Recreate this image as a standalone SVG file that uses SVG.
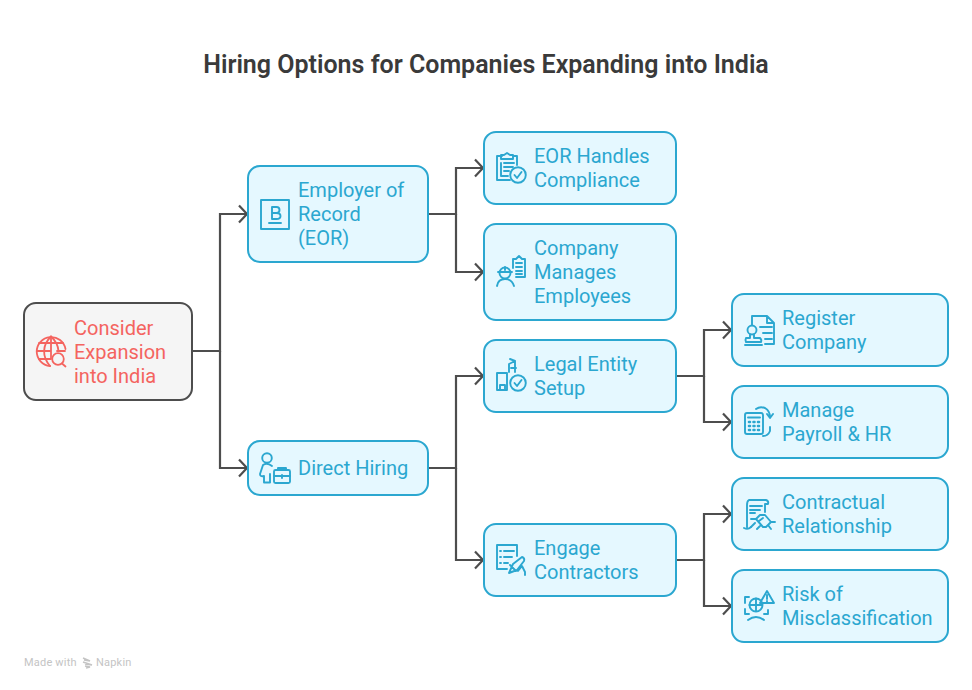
<svg xmlns="http://www.w3.org/2000/svg" width="972" height="690" viewBox="0 0 972 690">
<defs>
<marker id="arr" markerUnits="userSpaceOnUse" markerWidth="14" markerHeight="20" refX="10" refY="10" orient="auto"><path d="M2 1.500 L10 10 L2 18.500" fill="none" stroke="#4d4d4d" stroke-width="2.200"/></marker>
</defs>
<style>
text{font-family:Roboto,"Liberation Sans",sans-serif;font-size:20px;fill:#2ba7d0}
.title{font-size:25px;font-weight:600;fill:#3a3a3a;text-anchor:middle}
.b{fill:#e5f8ff;stroke:#2ba7d0;stroke-width:2}
.r{fill:#f5f5f5;stroke:#4d4d4d;stroke-width:2}
.rt{fill:#f4645f}
.c{fill:none;stroke:#4d4d4d;stroke-width:2.200}
.i{fill:none;stroke:#2ba7d0;stroke-width:1.900;stroke-linecap:round;stroke-linejoin:round}
.ir{fill:none;stroke:#f4645f;stroke-width:1.800;stroke-linecap:round;stroke-linejoin:round}
.d{stroke-width:2.600}
.m{font-size:11px;fill:#c4c4c4;letter-spacing:.2px}
</style>
<rect width="972" height="690" fill="#fff"/>
<text class="title" x="486" y="73">Hiring Options for Companies Expanding into India</text>
<g id="connectors">
<path class="c" d="M192 351H220V214H247" marker-end="url(#arr)"/>
<path class="c" d="M220 351V468H247" marker-end="url(#arr)"/>
<path class="c" d="M428 214H456V168H483" marker-end="url(#arr)"/>
<path class="c" d="M456 214V272H483" marker-end="url(#arr)"/>
<path class="c" d="M428 468H456V376H483" marker-end="url(#arr)"/>
<path class="c" d="M456 468V560H483" marker-end="url(#arr)"/>
<path class="c" d="M676 376H704V330H731" marker-end="url(#arr)"/>
<path class="c" d="M704 376V422H731" marker-end="url(#arr)"/>
<path class="c" d="M676 560H704V514H731" marker-end="url(#arr)"/>
<path class="c" d="M704 560V606H731" marker-end="url(#arr)"/>
</g>
<g id="n-root">
<rect class="r" x="24" y="303" width="168" height="97" rx="12"/>
<g class="ir"><path d="M50 366A14.500 14.500 0 1 1 65.500 349"/><path d="M51 336.500C42 345 42 357 50 366M51 336.500C56 341 58 345 58.500 351"/><path d="M51 336.500V359M37 351H51M57 351H65M39 343H63M39 359H50"/><circle cx="58" cy="359" r="5.800"/><path d="M62 363.500L65.500 366.500"/></g>
<text class="rt" x="74" y="335">Consider</text><text class="rt" x="74" y="359">Expansion</text><text class="rt" x="74" y="383">into India</text>
</g>
<g id="n-eor">
<rect class="b" x="248" y="166" width="180" height="96" rx="12"/>
<g class="i"><rect x="261" y="200" width="28" height="29"/><path d="M269 223H281M272 219V207H276.500Q279.500 207 279.500 210T276.500 213H272M276.500 213Q280.500 213 280.500 216T276.500 219H272"/></g>
<text x="298" y="197">Employer of</text><text x="298" y="221">Record</text><text x="298" y="245">(EOR)</text>
</g>
<g id="n-direct">
<rect class="b" x="248" y="441" width="180" height="54" rx="12"/>
<g class="i"><circle cx="267" cy="458" r="4.800"/><path d="M272 466Q267 462 263 465L260 474Q260 477 264 476V482.500H270V474"/><rect x="274" y="470" width="16" height="13" rx="1.500"/><path d="M278 470V468H286V470M274 476H290M282 475V478"/></g>
<text x="298" y="475">Direct Hiring</text>
</g>
<g id="n-eh">
<rect class="b" x="484" y="132" width="192" height="72" rx="12"/>
<g class="i"><path d="M502 156H497V180H510M513 156H517V165M501 159V155H504L507 153L510 155H513V159ZM501 163V176H508M504 163H514M504 167H513M504 171H509"/><circle cx="518" cy="175" r="7.800"/><path d="M514.500 175L517 178L521.500 172"/></g>
<text x="534" y="163">EOR Handles</text><text x="534" y="187">Compliance</text>
</g>
<g id="n-cm">
<rect class="b" x="484" y="224" width="192" height="96" rx="12"/>
<g class="i"><circle cx="505" cy="273" r="5.500"/><path d="M498 272H512M505 267V270M497 286Q498 279 505 279Q512 279 514 286M513 268V259H516L519 256L522 259H525V277H516M516 263H522M516 267H522M516 271H522M516 274H522"/></g>
<text x="534" y="255">Company</text><text x="534" y="279">Manages</text><text x="534" y="303">Employees</text>
</g>
<g id="n-le">
<rect class="b" x="484" y="340" width="192" height="72" rx="12"/>
<g class="i"><path d="M497 390V373H507V390ZM500 390V385H505V390M509 372V364L515 361V372M510 359L515 361M511 368H516"/><circle cx="518" cy="383" r="7.800"/><path d="M514.500 383L517 386L521.500 380"/></g>
<text x="534" y="371">Legal Entity</text><text x="534" y="395">Setup</text>
</g>
<g id="n-ec">
<rect class="b" x="484" y="524" width="192" height="72" rx="12"/>
<g class="i"><path d="M517 556V545H497V569H507M500 551H501M504 551H514M500 557H501M504 557H512M500 563H501M504 563H508"/><path d="M509 573L513 564L522 557Q525 558 524 561L517 570ZM510 565L516 571M518 571L522 566L525 572V575"/></g>
<text x="534" y="555">Engage</text><text x="534" y="579">Contractors</text>
</g>
<g id="n-rc">
<rect class="b" x="732" y="294" width="216" height="72" rx="12"/>
<g class="i"><path d="M752 325V316H767L774 323V344H765M767 316V323H774M760 327H772M763 333H772M765 339H772"/><circle cx="752" cy="330" r="4.500"/><path d="M750 334.500V338H746Q745 340 746 342H761Q762 340 760 338H754V334.500M745 345H762"/></g>
<text x="782" y="325">Register</text><text x="782" y="349">Company</text>
</g>
<g id="n-mp">
<rect class="b" x="732" y="386" width="216" height="72" rx="12"/>
<g class="i"><rect x="745" y="413" width="18" height="21" rx="2"/><path d="M748 417.500H760"/><path class="d" d="M749 422H750M753.500 422H754.500M758 422H759M749 426H750M753.500 426H754.500M758 426H759M749 430H750M753.500 430H754.500M758 430H759"/><path d="M756 409Q760 406 765 408Q770 411 770 417M767 414L770 418L773 414M763 436Q768 436 770 431V427"/></g>
<text x="782" y="417">Manage</text><text x="782" y="441">Payroll &amp; HR</text>
</g>
<g id="n-cr">
<rect class="b" x="732" y="478" width="216" height="72" rx="12"/>
<g class="i"><path d="M749 500H766Q769 501 768 504H765V512M749 500Q747 501 747 505V527M744 528Q748 530 751 527M750 506H762M750 510H760M750 513H755"/><path d="M751 519H756L763 527H766L771 522H775M756 519L760 515H765L771 522M759 521L763 518M760 526L757 529M768 525L771 529M751 527L755 523"/></g>
<text x="782" y="509">Contractual</text><text x="782" y="533">Relationship</text>
</g>
<g id="n-rm">
<rect class="b" x="732" y="570" width="216" height="72" rx="12"/>
<g class="i"><path d="M745 603V597H749M745 609V614H749M768 610V614H764"/><circle cx="756" cy="605" r="6.500"/><path d="M749.500 605H762M756 598.500V611"/><path d="M767 591L774 603H760ZM767 595V599M767 601V601.500M748 620Q756 614 764 620"/></g>
<text x="782" y="601">Risk of</text><text x="782" y="625">Misclassification</text>
</g>
<g id="brand">
<text class="m" x="24" y="666">Made with</text>
<path d="M83 658L90 661L84 660M83 662L92 665L85 664M85 666L90 667L86 668" fill="none" stroke="#c4c4c4" stroke-width="1.500"/>
<text class="m" x="96" y="666">Napkin</text>
</g>
</svg>
